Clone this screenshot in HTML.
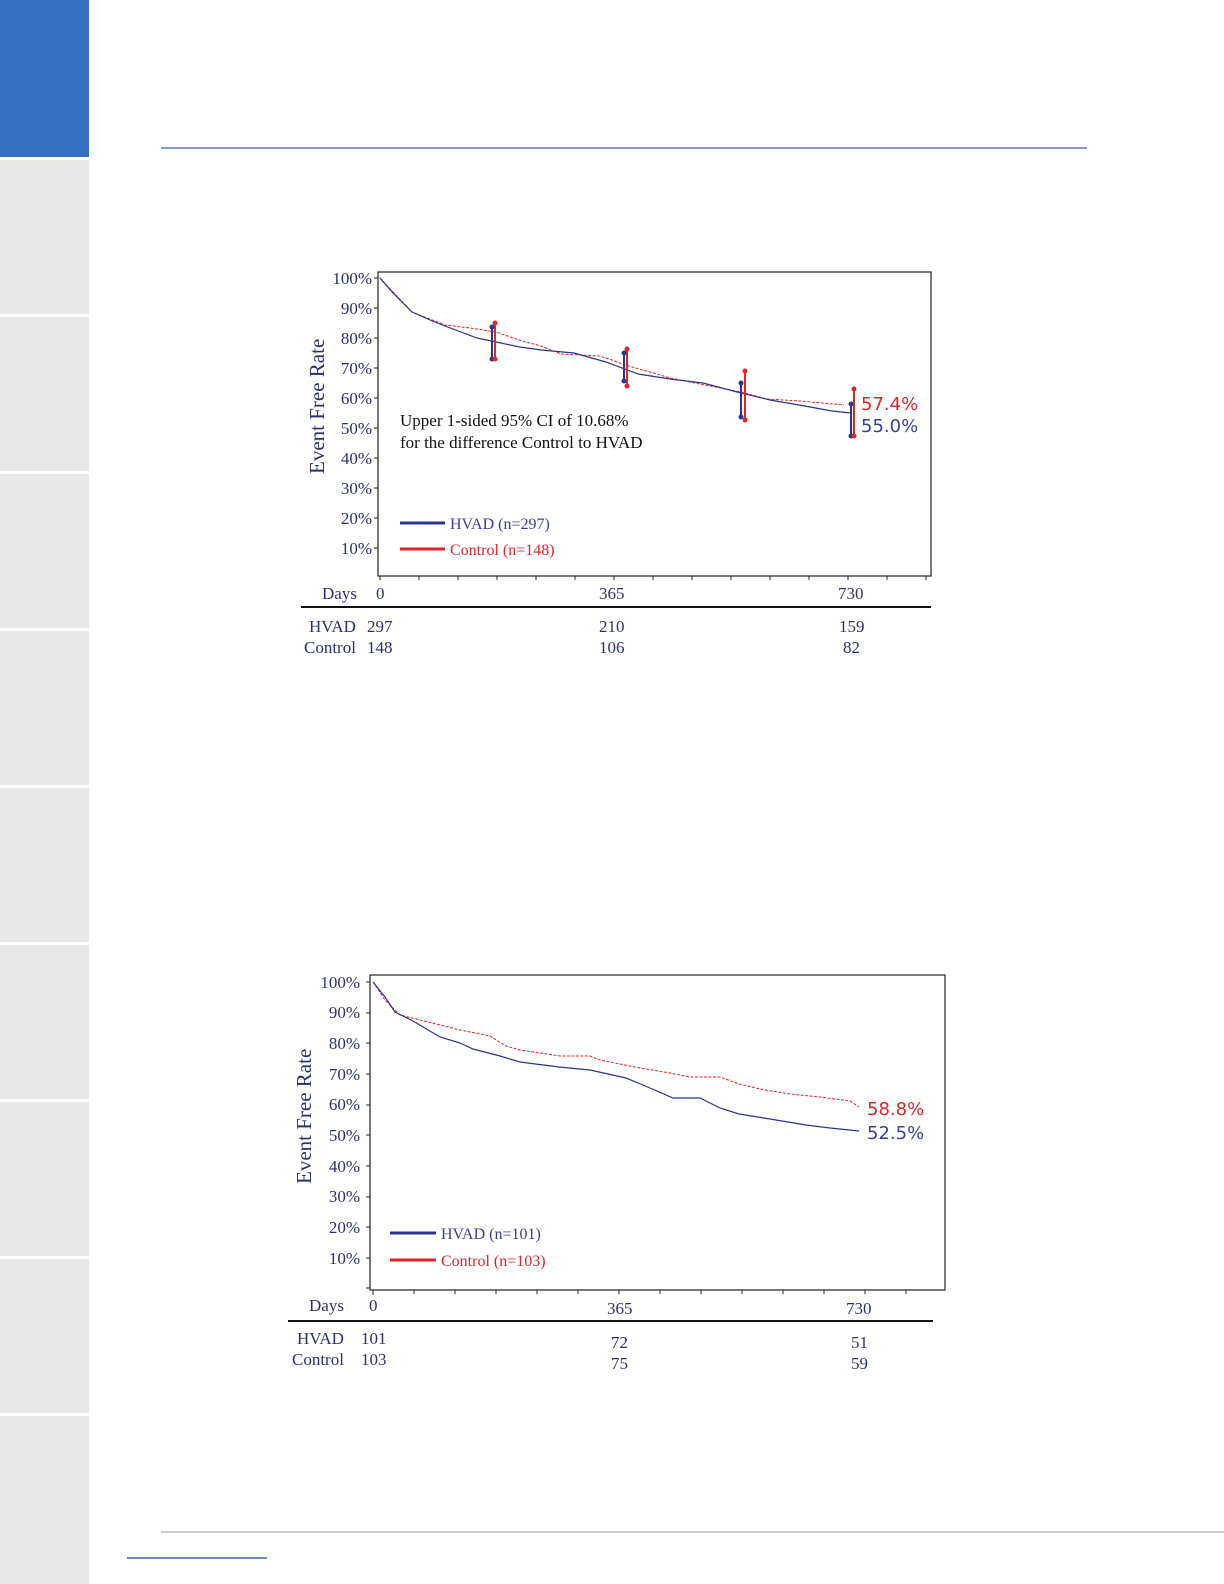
<!DOCTYPE html>
<html><head><meta charset="utf-8"><style>
html,body{margin:0;padding:0;background:#fff;}
svg{display:block;}
.t{font-family:"Liberation Serif",serif;fill:#2b3170;}
.s{font-family:"DejaVu Sans","Liberation Sans",sans-serif;}
</style></head><body>
<svg width="1224" height="1584" viewBox="0 0 1224 1584" xmlns="http://www.w3.org/2000/svg">
<rect x="0" y="0" width="89" height="157" fill="#3670c0"/>
<g fill="#e8e8e8">
<rect x="0" y="160" width="89" height="154"/>
<rect x="0" y="317" width="89" height="154"/>
<rect x="0" y="474" width="89" height="154"/>
<rect x="0" y="631" width="89" height="154"/>
<rect x="0" y="788" width="89" height="154"/>
<rect x="0" y="945" width="89" height="154"/>
<rect x="0" y="1102" width="89" height="154"/>
<rect x="0" y="1259" width="89" height="154"/>
<rect x="0" y="1416" width="89" height="168"/>
</g>
<line x1="161" y1="148" x2="1087" y2="148" stroke="#5b7dbd" stroke-width="1.5"/>
<line x1="161" y1="1532" x2="1224" y2="1532" stroke="#999" stroke-width="1"/>
<line x1="127" y1="1558" x2="267" y2="1558" stroke="#3d5fb0" stroke-width="1.5"/>

<!-- Chart 1 -->
<rect x="378" y="272" width="553" height="304" fill="none" stroke="#222" stroke-width="1.2"/>
<g class="t" font-size="17" text-anchor="end">
<text x="372" y="284">100%</text><text x="372" y="314">90%</text><text x="372" y="344">80%</text>
<text x="372" y="374">70%</text><text x="372" y="404">60%</text><text x="372" y="434">50%</text>
<text x="372" y="464">40%</text><text x="372" y="494">30%</text><text x="372" y="524">20%</text>
<text x="372" y="554">10%</text>
</g>
<g stroke="#222" stroke-width="1">
<line x1="374" y1="278" x2="378" y2="278"/><line x1="374" y1="308" x2="378" y2="308"/><line x1="374" y1="338" x2="378" y2="338"/><line x1="374" y1="368" x2="378" y2="368"/><line x1="374" y1="398" x2="378" y2="398"/><line x1="374" y1="428" x2="378" y2="428"/><line x1="374" y1="458" x2="378" y2="458"/><line x1="374" y1="488" x2="378" y2="488"/><line x1="374" y1="518" x2="378" y2="518"/><line x1="374" y1="548" x2="378" y2="548"/>
<line x1="380" y1="576" x2="380" y2="580"/><line x1="419" y1="576" x2="419" y2="580"/><line x1="458" y1="576" x2="458" y2="580"/><line x1="497" y1="576" x2="497" y2="580"/><line x1="536" y1="576" x2="536" y2="580"/><line x1="575" y1="576" x2="575" y2="580"/><line x1="614" y1="576" x2="614" y2="580"/><line x1="653" y1="576" x2="653" y2="580"/><line x1="692" y1="576" x2="692" y2="580"/><line x1="731" y1="576" x2="731" y2="580"/><line x1="770" y1="576" x2="770" y2="580"/><line x1="809" y1="576" x2="809" y2="580"/><line x1="848" y1="576" x2="848" y2="580"/><line x1="887" y1="576" x2="887" y2="580"/><line x1="926" y1="576" x2="926" y2="580"/>
</g>
<text class="t" font-size="21" transform="translate(324,474) rotate(-90)">Event Free Rate</text>
<polyline fill="none" stroke="#e0242b" stroke-width="1" stroke-dasharray="3,1.5" points="380,278 393,292 412,312 445,325 470,328 496,332 522,341 541,346 561,354 599,356 612,360 625,365 650,372 670,378 700,384 741,392 767,399 800,401 844,405"/>
<polyline fill="none" stroke="#2b3590" stroke-width="1.2" points="380,278 393,293 412,312 430,320 445,326 477,338 496,342 520,347 541,350 574,353 606,362 638,374 670,379 703,383 741,393 770,400 799,405 832,411 851,413"/>
<g stroke-width="2">
<line x1="492" y1="327" x2="492" y2="359" stroke="#2b3590"/><line x1="495" y1="323" x2="495" y2="359" stroke="#e0242b"/>
<line x1="624" y1="353" x2="624" y2="381" stroke="#2b3590"/><line x1="627" y1="349" x2="627" y2="386" stroke="#e0242b"/>
<line x1="741" y1="383" x2="741" y2="417" stroke="#2b3590"/><line x1="745" y1="371" x2="745" y2="420" stroke="#e0242b"/>
<line x1="851" y1="404" x2="851" y2="436" stroke="#2b3590"/><line x1="854" y1="389" x2="854" y2="436" stroke="#e0242b"/>
</g>
<g fill="#2b3590"><circle cx="492" cy="327" r="2.5"/><circle cx="492" cy="359" r="2.5"/><circle cx="624" cy="353" r="2.5"/><circle cx="624" cy="381" r="2.5"/><circle cx="741" cy="383" r="2.5"/><circle cx="741" cy="417" r="2.5"/><circle cx="851" cy="404" r="2.5"/><circle cx="851" cy="436" r="2.5"/></g>
<g fill="#e0242b"><circle cx="495" cy="323" r="2.5"/><circle cx="495" cy="359" r="2.5"/><circle cx="627" cy="349" r="2.5"/><circle cx="627" cy="386" r="2.5"/><circle cx="745" cy="371" r="2.5"/><circle cx="745" cy="420" r="2.5"/><circle cx="854" cy="389" r="2.5"/><circle cx="854" cy="436" r="2.5"/></g>
<text class="s" x="861" y="410" font-size="18" fill="#e0242b">57.4%</text>
<text class="s" x="861" y="432" font-size="18" fill="#3a3f9a">55.0%</text>
<text x="400" y="426" font-family="Liberation Serif,serif" font-size="17" fill="#111">Upper 1-sided 95% CI of 10.68%</text>
<text x="400" y="448" font-family="Liberation Serif,serif" font-size="17" fill="#111">for the difference Control to HVAD</text>
<line x1="400" y1="523" x2="445" y2="523" stroke="#2b3590" stroke-width="3"/>
<text x="450" y="529" font-family="Liberation Serif,serif" font-size="16" fill="#3a3f9a">HVAD (n=297)</text>
<line x1="400" y1="549" x2="445" y2="549" stroke="#e0242b" stroke-width="3"/>
<text x="450" y="555" font-family="Liberation Serif,serif" font-size="16" fill="#e0242b">Control (n=148)</text>
<g class="t" font-size="17">
<text x="322" y="599">Days</text><text x="376" y="599">0</text><text x="599" y="599">365</text><text x="838" y="599">730</text>
<text x="309" y="632">HVAD</text><text x="367" y="632">297</text><text x="599" y="632">210</text><text x="839" y="632">159</text>
<text x="304" y="653">Control</text><text x="367" y="653">148</text><text x="599" y="653">106</text><text x="843" y="653">82</text>
</g>
<line x1="301" y1="607" x2="931" y2="607" stroke="#111" stroke-width="2"/>

<!-- Chart 2 -->
<rect x="370" y="975" width="575" height="315" fill="none" stroke="#222" stroke-width="1.2"/>
<g class="t" font-size="17" text-anchor="end">
<text x="360" y="988">100%</text><text x="360" y="1018">90%</text><text x="360" y="1049">80%</text>
<text x="360" y="1080">70%</text><text x="360" y="1110">60%</text><text x="360" y="1141">50%</text>
<text x="360" y="1172">40%</text><text x="360" y="1202">30%</text><text x="360" y="1233">20%</text>
<text x="360" y="1264">10%</text>
</g>
<g stroke="#222" stroke-width="1">
<line x1="366" y1="982" x2="370" y2="982"/><line x1="366" y1="1013" x2="370" y2="1013"/><line x1="366" y1="1043" x2="370" y2="1043"/><line x1="366" y1="1074" x2="370" y2="1074"/><line x1="366" y1="1105" x2="370" y2="1105"/><line x1="366" y1="1135" x2="370" y2="1135"/><line x1="366" y1="1166" x2="370" y2="1166"/><line x1="366" y1="1197" x2="370" y2="1197"/><line x1="366" y1="1227" x2="370" y2="1227"/><line x1="366" y1="1258" x2="370" y2="1258"/><line x1="366" y1="1288" x2="370" y2="1288"/>
<line x1="373" y1="1290" x2="373" y2="1295"/><line x1="414" y1="1290" x2="414" y2="1294"/><line x1="455" y1="1290" x2="455" y2="1294"/><line x1="496" y1="1290" x2="496" y2="1294"/><line x1="537" y1="1290" x2="537" y2="1294"/><line x1="578" y1="1290" x2="578" y2="1294"/><line x1="619" y1="1290" x2="619" y2="1294"/><line x1="660" y1="1290" x2="660" y2="1294"/><line x1="701" y1="1290" x2="701" y2="1294"/><line x1="742" y1="1290" x2="742" y2="1294"/><line x1="783" y1="1290" x2="783" y2="1294"/><line x1="824" y1="1290" x2="824" y2="1294"/><line x1="865" y1="1290" x2="865" y2="1294"/><line x1="906" y1="1290" x2="906" y2="1294"/>
</g>
<text class="t" font-size="21" transform="translate(311,1184) rotate(-90)">Event Free Rate</text>
<polyline fill="none" stroke="#e0242b" stroke-width="1" stroke-dasharray="3,1.5" points="373,982 385,1000 400,1015 420,1020 440,1025 460,1030 490,1036 506,1046 520,1050 540,1053 560,1056 590,1056 600,1060 620,1064 640,1068 670,1073 690,1077 720,1077 739,1084 760,1089 790,1094 820,1097 850,1101 859,1107"/>
<polyline fill="none" stroke="#2b3590" stroke-width="1.2" points="373,982 385,997 395,1012 413,1021 440,1037 460,1043 473,1049 500,1056 520,1062 559,1067 590,1070 626,1078 650,1088 673,1098 700,1098 720,1108 739,1114 770,1119 806,1125 830,1128 859,1131"/>
<text class="s" x="867" y="1115" font-size="18" fill="#e0242b">58.8%</text>
<text class="s" x="867" y="1139" font-size="18" fill="#3a3f9a">52.5%</text>
<line x1="390" y1="1233" x2="436" y2="1233" stroke="#2b3590" stroke-width="3"/>
<text x="441" y="1239" font-family="Liberation Serif,serif" font-size="16" fill="#3a3f9a">HVAD (n=101)</text>
<line x1="390" y1="1260" x2="436" y2="1260" stroke="#e0242b" stroke-width="3"/>
<text x="441" y="1266" font-family="Liberation Serif,serif" font-size="16" fill="#e0242b">Control (n=103)</text>
<g class="t" font-size="17">
<text x="309" y="1311">Days</text><text x="369" y="1311">0</text><text x="607" y="1314">365</text><text x="846" y="1314">730</text>
<text x="297" y="1344">HVAD</text><text x="361" y="1344">101</text><text x="611" y="1348">72</text><text x="851" y="1348">51</text>
<text x="292" y="1365">Control</text><text x="361" y="1365">103</text><text x="611" y="1369">75</text><text x="851" y="1369">59</text>
</g>
<line x1="288" y1="1321" x2="933" y2="1321" stroke="#111" stroke-width="2"/>
</svg>
</body></html>
